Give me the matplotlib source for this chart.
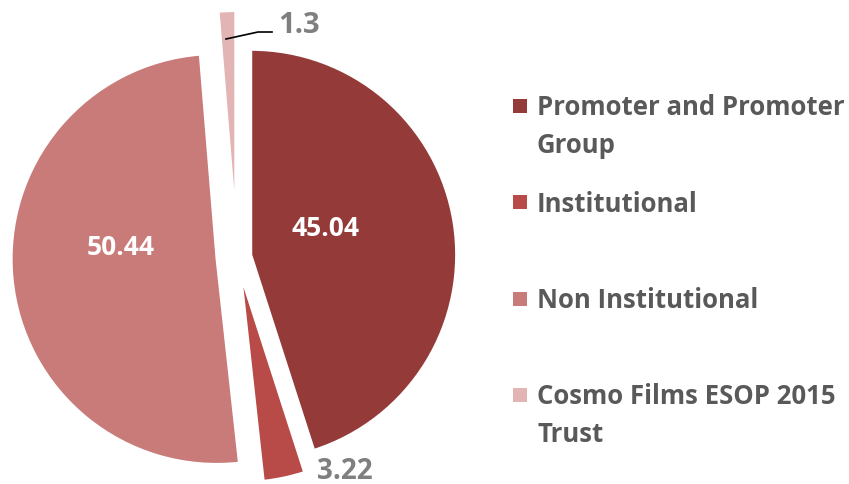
import matplotlib
matplotlib.use("Agg")
import matplotlib.pyplot as plt
from matplotlib.patches import Rectangle

categories = ["Promoter and Promoter\nGroup", "Institutional", "Non Institutional",
              "Cosmo Films ESOP 2015\nTrust"]
values = [45.04, 3.22, 50.44, 1.3]
value_labels = ["45.04", "3.22", "50.44", "1.3"]
colors = ["#943B3A", "#B84A48", "#C97B7A", "#E2B4B4"]
explode = [0.07, 0.1, 0.1, 0.2]

W, H = 849, 485
R = 205.0
cx, cy = 237.0, H - 258.0

fig = plt.figure(figsize=(W / 100, H / 100), dpi=100)
ax = fig.add_axes([0, 0, 1, 1])
wedges, _ = ax.pie(values, colors=colors, startangle=90, counterclock=False,
                   explode=explode, radius=1.0,
                   wedgeprops=dict(edgecolor="white", linewidth=1.5))
ax.set_xlim(-cx / R, (W - cx) / R)
ax.set_ylim(-cy / R, (H - cy) / R)
ax.axis("off")

font = "Open Sans"
def px(x, y):
    return ((x - cx) / R, ((H - y) - cy) / R)

# value labels
ax.text(*px(326, 228), value_labels[0], color="white", fontsize=19, fontweight="bold",
        family=font, ha="center", va="center")
ax.text(*px(121, 248), value_labels[2], color="white", fontsize=19, fontweight="bold",
        family=font, ha="center", va="center")
ax.text(*px(345, 472), value_labels[1], color="#7F7F7F", fontsize=20, fontweight="bold",
        family=font, ha="center", va="center")
ax.text(*px(299, 25), value_labels[3], color="#7F7F7F", fontsize=21, fontweight="bold",
        family=font, ha="center", va="center")
pts = [px(226, 40), px(258, 33), px(272, 33)]
ax.plot([p[0] for p in pts], [p[1] for p in pts], color="black", linewidth=1.2)

# legend
leg_base = [115, 212, 308, 404]
sq_top = [100, 196, 293, 389]
line_gap = 38
for cat, col, yb, ys in zip(categories, colors, leg_base, sq_top):
    fig.patches.append(Rectangle((513 / W, (H - ys - 14) / H), 14 / W, 14 / H,
                                 transform=fig.transFigure, facecolor=col, edgecolor="none"))
    for i, line in enumerate(cat.split("\n")):
        fig.text(537 / W, (H - yb - i * line_gap) / H, line, color="#595959",
                 fontsize=18.5, fontweight="bold", family=font, ha="left", va="baseline")

fig.savefig("out.png", dpi=100)
